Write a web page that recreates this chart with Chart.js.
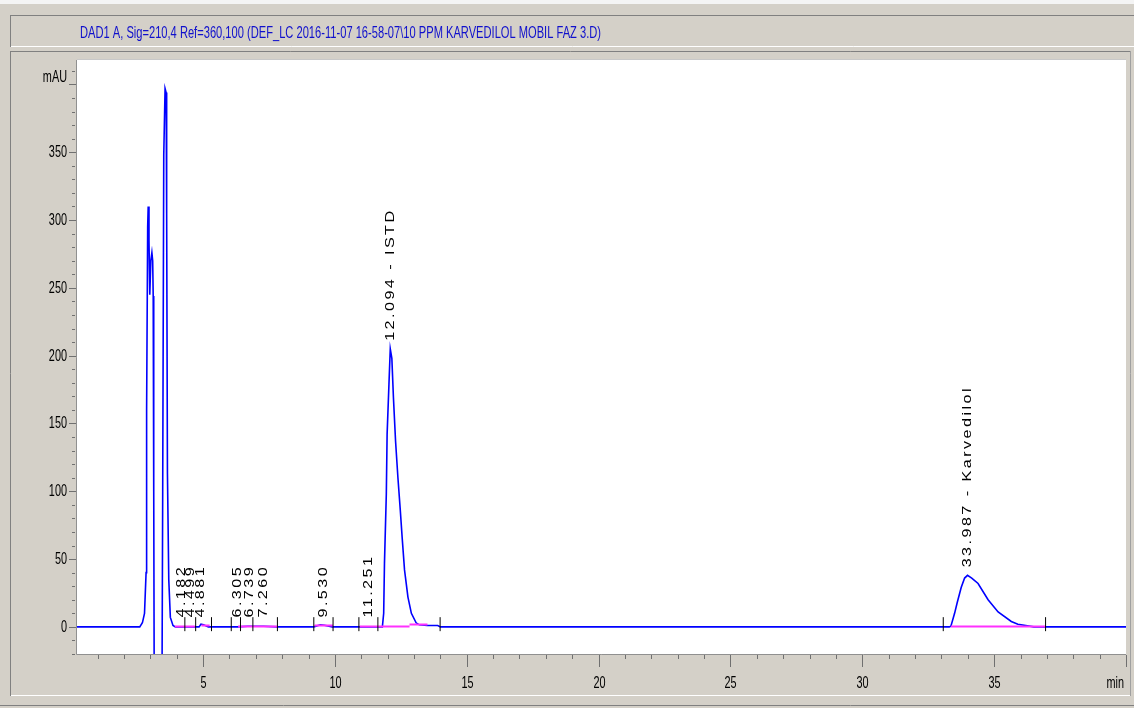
<!DOCTYPE html>
<html>
<head>
<meta charset="utf-8">
<title>DAD1 A chromatogram</title>
<style>
  html, body { margin: 0; padding: 0; background: #d4d0c8; }
  #wrap { width: 1134px; height: 708px; }
</style>
<script src="https://cdn.jsdelivr.net/npm/chart.js@4.4.1/dist/chart.umd.min.js"></script>
</head>
<body>
<div id="wrap"><canvas id="chrom" width="1134" height="708"></canvas></div>
<script>
const title = "DAD1 A, Sig=210,4 Ref=360,100 (DEF_LC 2016-11-07 16-58-07\\10 PPM KARVEDILOL MOBIL FAZ 3.D)";

// signal (min / mAU)
const frontTime = [0.22, 2.6, 2.7, 2.78, 2.84, 2.86, 2.9, 2.92, 2.95, 2.98, 3.02, 3.06, 3.09, 3.11, 3.13, 3.15, 3.44, 3.47, 3.51, 3.56, 3.6, 3.62, 3.65, 3.7, 3.76, 3.86, 3.95];
const frontMau  = [0, 0, 3, 10, 40, 160, 295, 310, 285, 245, 270, 276, 270, 244, 100, -60, -60, 100, 348, 397, 394, 305, 113, 35, 7, 1, 0];
const smallTime = [4.6, 4.85, 4.92, 5.02, 5.2, 6.3, 6.7, 7.3, 7.8, 9.2, 9.45, 9.6, 9.9];
const smallMau  = [0, 0, 2, 1.5, 0, 0, 0.5, 0.5, 0, 0, 1.5, 1.2, 0];
const istdTime = [11.8, 11.85, 11.88, 11.95, 11.98, 12.05, 12.1, 12.16, 12.22, 12.3, 12.39, 12.48, 12.55, 12.64, 12.77, 12.9, 13.08, 13.2, 13.5, 13.9, 14.0];
const istdMau  = [0, 10, 47, 98, 142, 179, 205, 198, 169, 137, 110, 86, 66, 42, 22, 10, 3, 1.5, 1, 1, 0];
const karvTime = [33.3, 33.36, 33.5, 33.6, 33.75, 33.88, 33.99, 34.15, 34.39, 34.77, 35.15, 35.65, 35.9, 36.2, 36.5, 40];
const karvMau  = [0, 0.5, 10, 18, 29, 36, 38, 36, 32, 20, 11, 4, 2, 1, 0, 0];

// integration results
const peakRT   = [4.182, 4.499, 4.881, 6.305, 6.739, 7.260, 9.530, 11.251, 12.094, 33.987];
const peakName = ["", "", "", "", "", "", "", "", "ISTD", "Karvedilol"];
const peakTop  = [1, 1, 1, 1, 1, 1, 1, 1, 205, 38];
const markTime = [4.31, 4.72, 5.32, 6.07, 6.42, 6.89, 7.82, 9.2, 9.93, 10.91, 11.63, 13.99, 33.07, 36.95];
const baseFrom  = [3.93, 4.94, 6.33, 9.23, 10.94, 12.83, 33.36];
const baseTo    = [4.69, 5.25, 7.84, 9.93, 12.83, 13.51, 36.95];
const baseLevel = [0.3, 1, 0.3, 1, 0.3, 1.8, 0.3];

const sigTime = frontTime.concat(smallTime, istdTime, karvTime);
const sigMau = frontMau.concat(smallMau, istdMau, karvMau);
const signal = sigTime.map((t, i) => ({ x: t, y: sigMau[i] }));

const baseline = [];
baseFrom.forEach((t, i) => {
  baseline.push({ x: t, y: baseLevel[i] }, { x: baseTo[i], y: baseLevel[i] }, { x: baseTo[i], y: null });
});
const marks = markTime.map(t => ({ x: t, y: 2 }));

const FONT = '"Liberation Sans", Arial, sans-serif';
const yLabel = v => v === 400 ? "mAU" : (v % 50 === 0 ? String(v) : "");
const xLabel = v => (v % 5 === 0 && v < 40) ? String(v) : "";

function squeezed(ctx, txt, x, y, align, sx) {
  ctx.save();
  ctx.translate(x, y);
  ctx.scale(sx, 1);
  ctx.textAlign = align;
  ctx.fillText(txt, 0, 0);
  ctx.restore();
}

const frame = {
  id: "frame",
  beforeDraw(chart) {
    const { ctx, chartArea: a, width: W, height: H } = chart;
    ctx.save();
    ctx.fillStyle = "#d4d0c8";
    ctx.fillRect(0, 0, W, H);
    ctx.fillStyle = "#f4f4f4";
    ctx.fillRect(0, 0, W, 4);
    ctx.lineWidth = 1;
    const line = (c, x1, y1, x2, y2) => {
      ctx.strokeStyle = c; ctx.beginPath(); ctx.moveTo(x1, y1); ctx.lineTo(x2, y2); ctx.stroke();
    };
    // title panel
    line("#808080", 10, 15.5, W, 15.5);
    line("#808080", 10.5, 15, 10.5, 47);
    line("#ffffff", 11, 46.5, W, 46.5);
    // plot panel
    line("#808080", 10, 51.5, 1131, 51.5);
    line("#808080", 10.5, 51, 10.5, 696);
    line("#ffffff", 11, 695.5, 1131, 695.5);
    line("#a0a0a0", 1130.5, 51, 1130.5, 696);
    line("#808080", 0, 705.5, W, 705.5);
    ctx.fillStyle = "#ffffff";
    ctx.fillRect(a.left, a.top, a.right - a.left, a.bottom - a.top);
    ctx.fillStyle = "#1010cc";
    ctx.font = "17px " + FONT;
    ctx.textBaseline = "alphabetic";
    const w = ctx.measureText(title).width;
    squeezed(ctx, title, 80, 38, "left", 521 / w);
    ctx.restore();
  },
  afterDatasetsDraw(chart) {
    const { ctx, scales: { x, y } } = chart;
    ctx.save();
    ctx.fillStyle = "#000";
    ctx.font = "12px " + FONT;
    ctx.letterSpacing = "1.8px";
    ctx.textBaseline = "alphabetic";
    peakRT.forEach((rt, i) => {
      const txt = rt.toFixed(3) + (peakName[i] ? " - " + peakName[i] : "");
      ctx.save();
      ctx.translate(x.getPixelForValue(rt), y.getPixelForValue(peakTop[i]) - 8);
      ctx.rotate(-Math.PI / 2);
      ctx.scale(1.35, 1);
      ctx.fillText(txt, 0, 4);
      ctx.restore();
    });
    ctx.restore();
  },
  afterDraw(chart) {
    const { ctx, chartArea: a, scales: { x, y } } = chart;
    ctx.save();
    ctx.lineWidth = 1;
    ctx.strokeStyle = "#909090";
    ctx.beginPath();
    ctx.moveTo(a.left - 0.5, a.top); ctx.lineTo(a.left - 0.5, a.bottom + 0.5); ctx.lineTo(a.right, a.bottom + 0.5);
    ctx.stroke();
    ctx.strokeStyle = "#c8c8c8";
    ctx.beginPath();
    ctx.moveTo(a.left, a.top - 0.5); ctx.lineTo(a.right, a.top - 0.5);
    ctx.stroke();

    ctx.strokeStyle = "#707070";
    ctx.fillStyle = "#000";
    ctx.font = "17px " + FONT;
    ctx.textBaseline = "middle";
    y.ticks.forEach(t => {
      const py = Math.round(y.getPixelForValue(t.value)) + 0.5;
      const major = t.value % 50 === 0;
      ctx.beginPath();
      ctx.moveTo(a.left - (major ? 8 : 5), py); ctx.lineTo(a.left - (major ? 1 : 2), py);
      ctx.stroke();
      const lab = yLabel(t.value);
      if (lab) squeezed(ctx, lab, a.left - 10, lab === "mAU" ? py - 7 : py, "right", 0.64);
    });
    x.ticks.forEach(t => {
      const px = Math.round(x.getPixelForValue(t.value)) + 0.5;
      const major = t.value % 5 === 0;
      ctx.beginPath();
      ctx.moveTo(px, a.bottom + 1); ctx.lineTo(px, a.bottom + (major ? 13 : 5));
      ctx.stroke();
      const lab = xLabel(t.value);
      if (lab) squeezed(ctx, lab, px, 683, "center", 0.64);
    });
    squeezed(ctx, "min", a.right - 2, 683, "right", 0.64);
    ctx.restore();
  }
};

new Chart(document.getElementById("chrom"), {
  type: "line",
  data: {
    datasets: [
      { type: "scatter", data: marks, pointStyle: "line", rotation: 90, pointRadius: 7, pointHoverRadius: 7,
        borderColor: "#000", borderWidth: 1, showLine: false },
      { data: baseline, borderColor: "#ff30ff", borderWidth: 2, pointRadius: 0, spanGaps: false, tension: 0 },
      { data: signal, borderColor: "#0000ff", borderWidth: 1.6, pointRadius: 0, tension: 0 }
    ]
  },
  options: {
    responsive: false,
    animation: false,
    devicePixelRatio: 1,
    layout: { padding: { left: 0, top: 60, right: 6, bottom: 0 } },
    plugins: { legend: { display: false }, tooltip: { enabled: false } },
    scales: {
      x: {
        type: "linear", min: 0.22, max: 40,
        grid: { display: false }, border: { display: false },
        ticks: { display: false, stepSize: 1, includeBounds: false, autoSkip: false },
        afterFit: s => { s.height = 54; }
      },
      y: {
        min: -20, max: 418,
        grid: { display: false }, border: { display: false },
        ticks: { display: false, stepSize: 10, includeBounds: false, autoSkip: false },
        afterFit: s => { s.width = 77; }
      }
    }
  },
  plugins: [frame]
});
</script>
</body>
</html>
